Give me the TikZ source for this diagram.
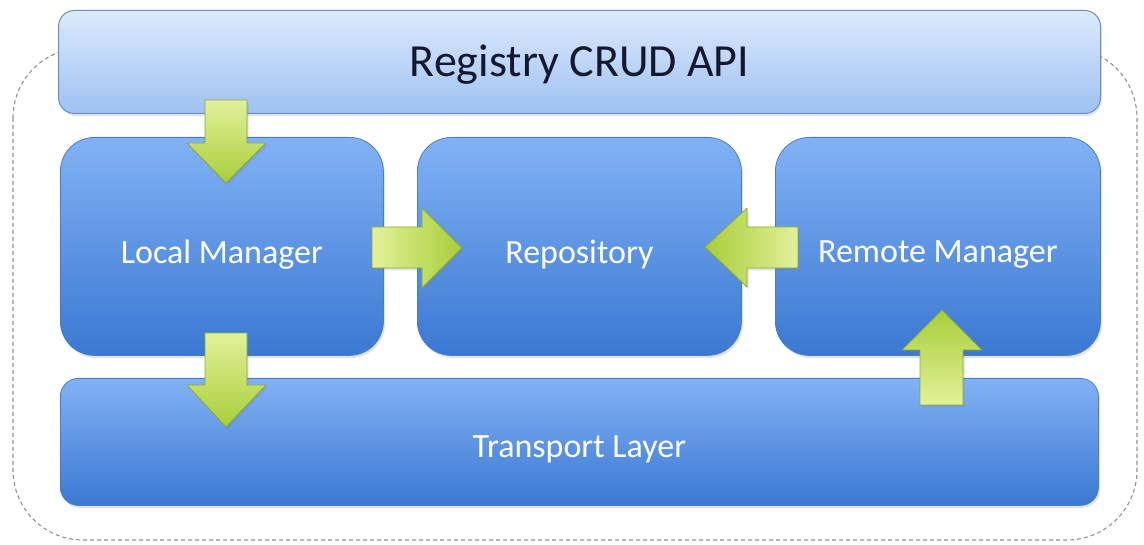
\documentclass[tikz,border=0pt]{standalone}
\usepackage{fontspec}
\setmainfont{Carlito}
\usetikzlibrary{shadows}
\definecolor{topA}{HTML}{DDEAFC}
\definecolor{topB}{HTML}{9EC2F3}
\definecolor{topE}{HTML}{6A8FC4}
\definecolor{boxA}{HTML}{82B2F5}
\definecolor{boxB}{HTML}{3A78D2}
\definecolor{boxE}{HTML}{4A7DC6}
\definecolor{grA}{HTML}{E2F19A}
\definecolor{grB}{HTML}{A8CE3A}
\definecolor{grE}{HTML}{86A83A}
\definecolor{dashc}{HTML}{8E9298}
\definecolor{titlec}{HTML}{14182E}
\tikzset{
  x=1pt, y=-1pt,
  shadowed/.style={drop shadow={opacity=0.22, shadow xshift=1.5pt, shadow yshift=-2.5pt}},
  apibox/.style={draw=topE, line width=1pt, rounded corners=16pt, top color=topA, bottom color=topB,
    anchor=north west, inner sep=0pt, shadowed, text=titlec, font=\fontsize{46}{50}\selectfont},
  blockbox/.style={draw=boxE, line width=0.8pt, rounded corners=34pt, top color=boxA, bottom color=boxB,
    anchor=north west, inner sep=0pt, shadowed, text=white, font=\fontsize{34}{38}\selectfont},
  layerbox/.style={blockbox, rounded corners=18pt},
  garrow/.style={draw=grE, line width=0.8pt, line join=round, shadowed},
  outline/.style={draw=dashc, line width=1.1pt, dash pattern=on 4pt off 3pt, rounded corners=70pt}
}
\begin{document}
\begin{tikzpicture}
\useasboundingbox (0,0) rectangle (1144,545);
% dashed enclosure
\draw[outline] (13,48) rectangle (1137,540);
% boxes
\node[apibox, minimum width=1042pt, minimum height=103pt] (api) at (58,10) {};
\node[text=titlec, font=\fontsize{46}{50}\selectfont] (apitxt) at ([yshift=-3pt]api.center) {Registry CRUD API};
\node[blockbox, minimum width=323pt, minimum height=218pt] (local) at (60,137) {};
\node[text=white, font=\fontsize{34}{38}\selectfont] (localtxt) at ([yshift=-8pt]local.center) {Local Manager};
\node[blockbox, minimum width=324pt, minimum height=218pt] (repo) at (417,137) {};
\node[text=white, font=\fontsize{34}{38}\selectfont] (repotxt) at ([yshift=-8pt]repo.center) {Repository};
\node[blockbox, minimum width=325pt, minimum height=218pt] (remote) at (775,137) {};
\node[text=white, font=\fontsize{34}{38}\selectfont] (remotetxt) at ([yshift=-8pt]remote.center) {Remote Manager};
\node[layerbox, minimum width=1038pt, minimum height=127pt] (transport) at (60,378) {};
\node[text=white, font=\fontsize{34}{38}\selectfont] (transporttxt) at ([yshift=-7pt]transport.center) {Transport Layer};
% block arrows
\draw[garrow, top color=grA, bottom color=grB]
  (205,100) -- (247,100) -- (247,143) -- (266,143) -- (226,183) -- (187,143) -- (205,143) -- cycle;
\draw[garrow, top color=grA, bottom color=grB]
  (205,333) -- (247,333) -- (247,385) -- (266,385) -- (226,427) -- (187,385) -- (205,385) -- cycle;
\draw[garrow, left color=grA, right color=grB]
  (372,227) -- (422,227) -- (422,208) -- (462,248) -- (422,288) -- (422,268) -- (372,268) -- cycle;
\draw[garrow, right color=grA, left color=grB]
  (798,227) -- (747,227) -- (747,208) -- (705,247) -- (747,287) -- (747,268) -- (798,268) -- cycle;
\draw[garrow, bottom color=grA, top color=grB]
  (920,405) -- (920,350) -- (902,350) -- (942,310) -- (982,350) -- (963,350) -- (963,405) -- cycle;
\end{tikzpicture}
\end{document}
